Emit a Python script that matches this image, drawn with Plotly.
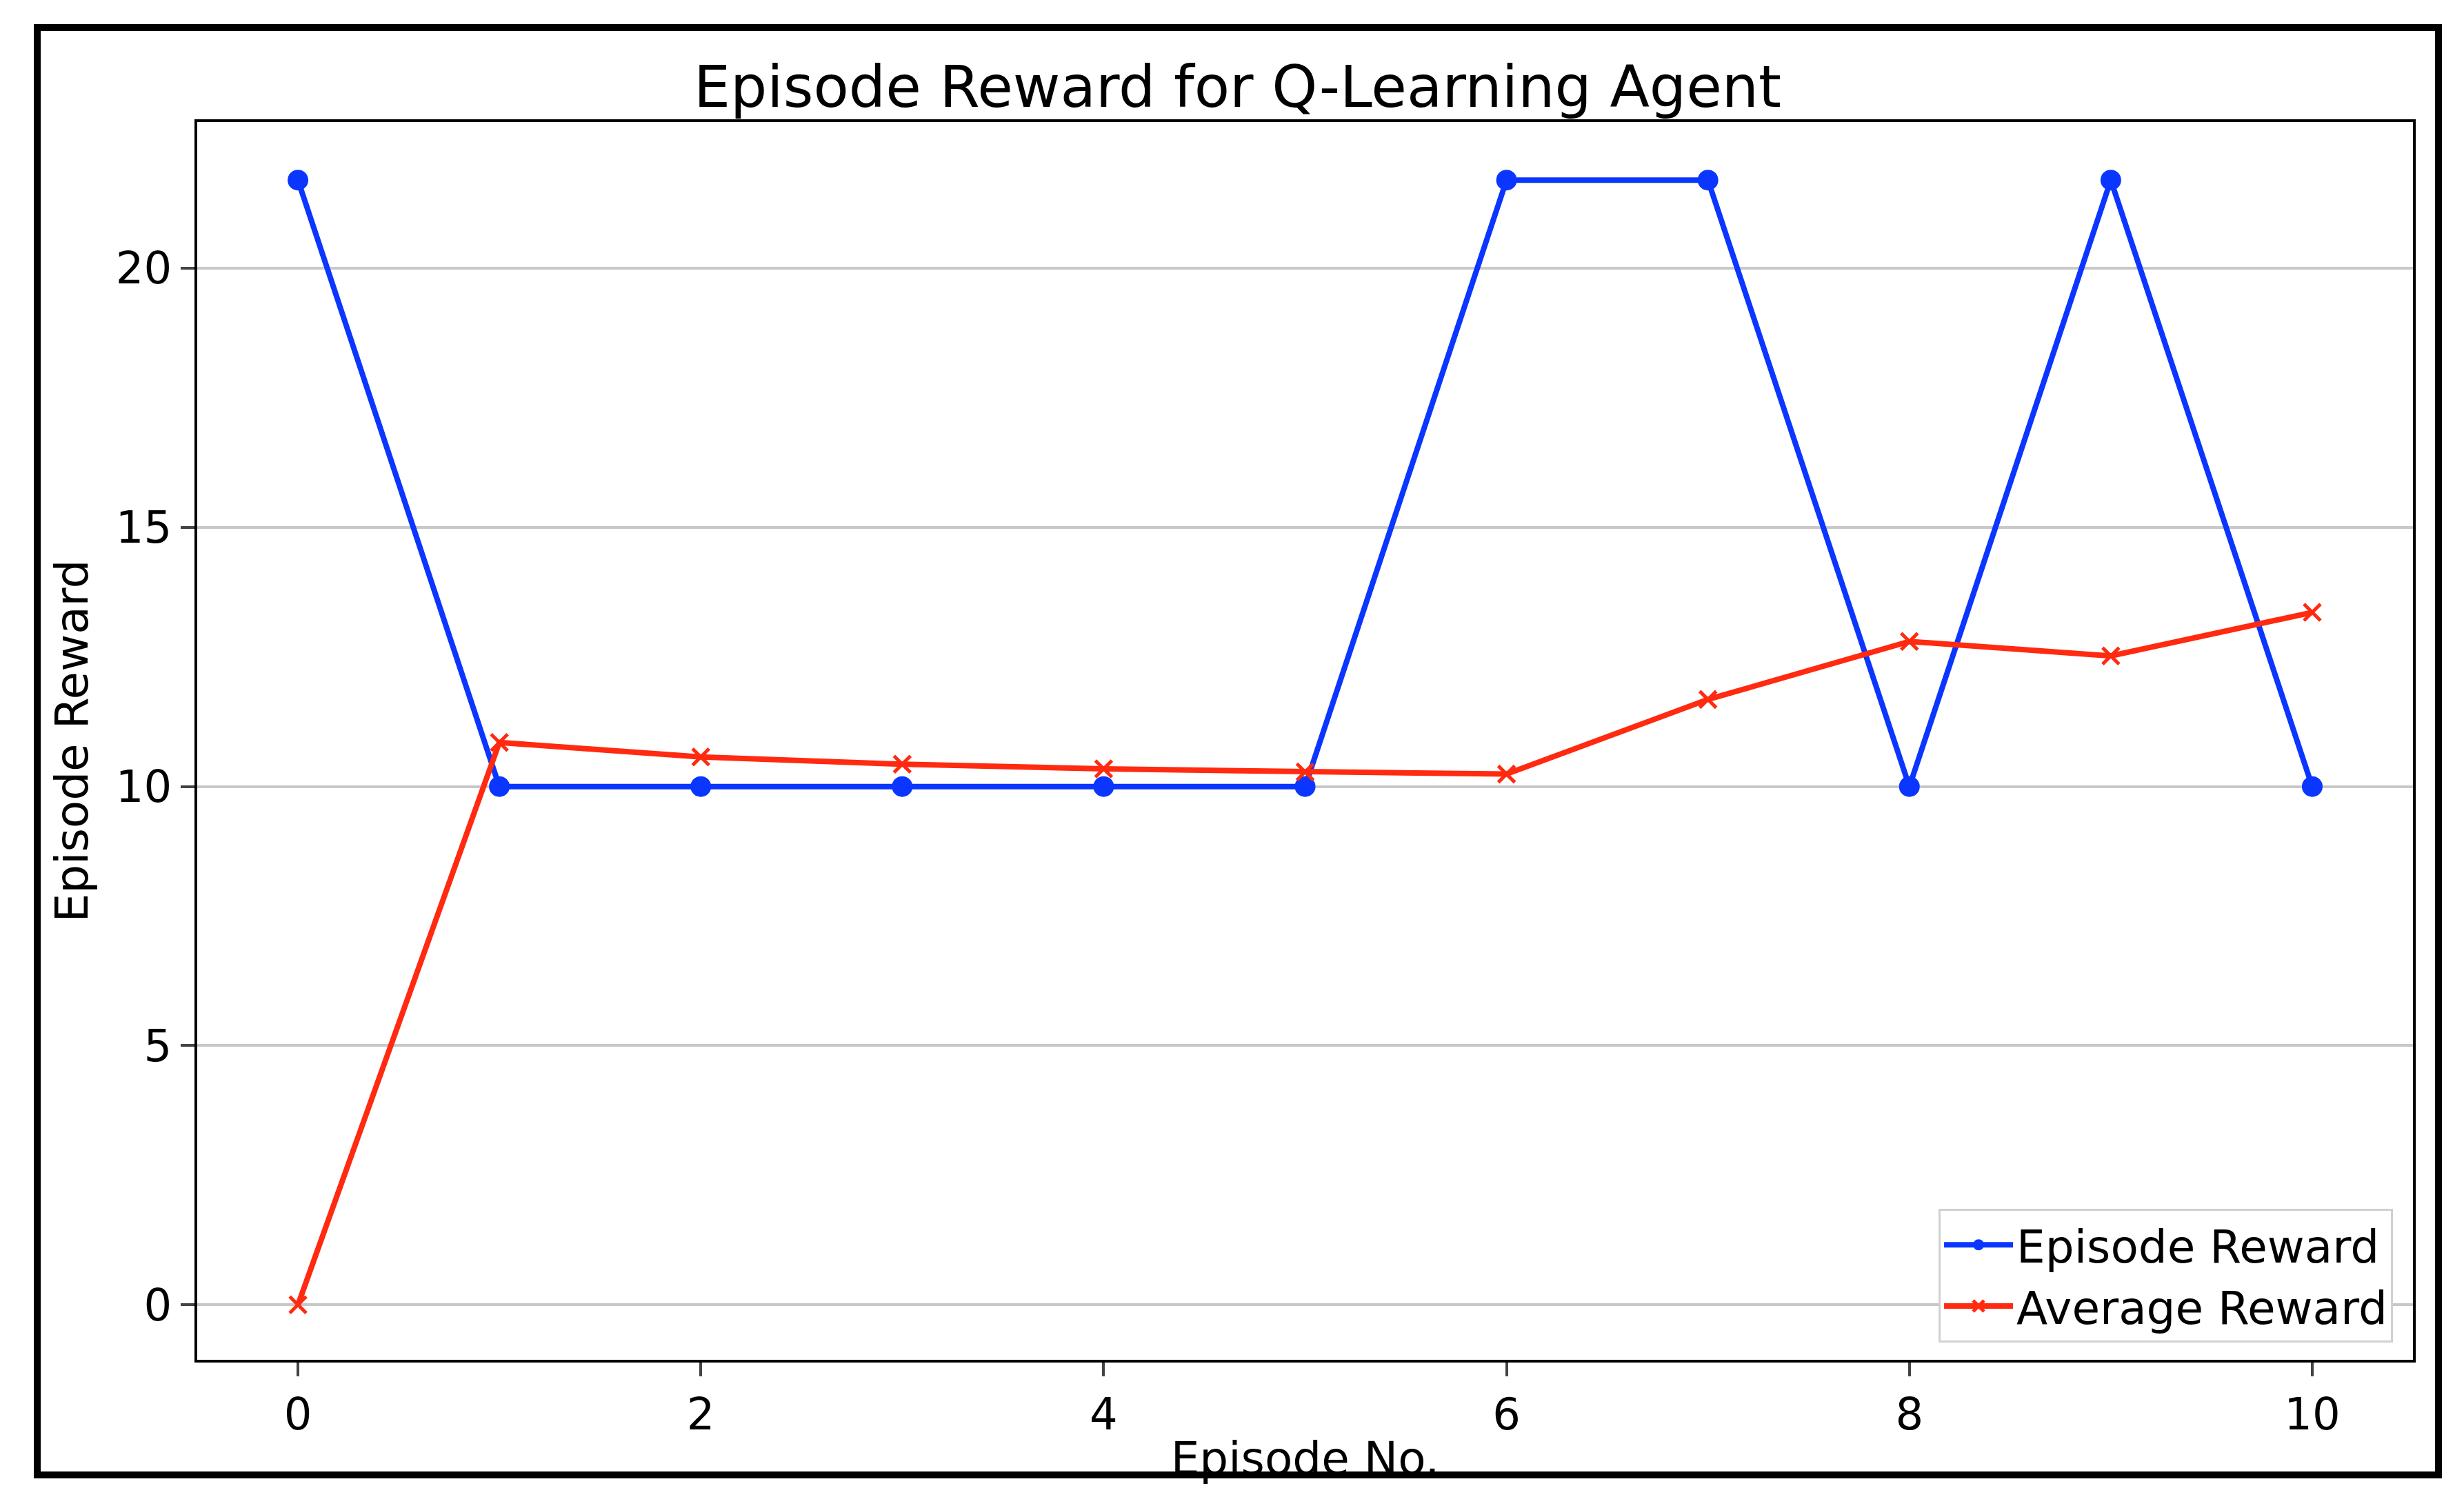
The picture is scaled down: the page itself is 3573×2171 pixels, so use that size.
import plotly.graph_objects as go

episodes = list(range(11))
episode_reward = [21.7, 10, 10, 10, 10, 10, 21.7, 21.7, 10, 21.7, 10]
average_reward = [0, 10.85, 10.57, 10.43, 10.34, 10.28, 10.24, 11.68, 12.8, 12.52, 13.36]

fig = go.Figure()
fig.add_trace(go.Scatter(x=episodes, y=episode_reward, mode="lines+markers", name="Episode Reward",
                         line=dict(color="#0a36ff", width=8), marker=dict(symbol="circle", size=30, color="#0a36ff")))
fig.add_trace(go.Scatter(x=episodes, y=average_reward, mode="lines+markers", name="Average Reward",
                         line=dict(color="#ff2a10", width=8), marker=dict(symbol="x-thin", size=24, line=dict(width=5, color="#ff2a10"), color="#ff2a10")))

font = "DejaVu Sans"
fig.update_layout(
    width=3573, height=2171, paper_bgcolor="white", plot_bgcolor="white",
    margin=dict(l=278, r=82, t=169, b=207),
    font=dict(family=font, size=64, color="black"),
    title=dict(text="Episode Reward for Q-Learning Agent", x=0.5, xanchor="center", y=1 - 118/2171, yanchor="middle", font=dict(size=84)),
    xaxis=dict(range=[-0.5, 10.5], tickvals=[0, 2, 4, 6, 8, 10], showgrid=False, zeroline=False,
               ticks="outside", ticklen=20, tickwidth=4, showline=True, linecolor="black", linewidth=4, mirror=True,
               title=dict(text="Episode No.", font=dict(size=66), standoff=6)),
    yaxis=dict(range=[-1.06, 22.82], tickvals=[0, 5, 10, 15, 20], showgrid=True, gridcolor="#c8c8c8", gridwidth=4,
               zeroline=False, ticks="outside", ticklen=20, tickwidth=4, showline=True, linecolor="black", linewidth=4, mirror=True,
               title=dict(text="Episode Reward", font=dict(size=66), standoff=20)),
    legend=dict(x=0.991, y=0.014, xanchor="right", yanchor="bottom", bgcolor="white", bordercolor="#d0d0d0", borderwidth=3,
                font=dict(size=66), itemwidth=100),
    shapes=[dict(type="rect", xref="paper", yref="paper", x0=-0.0722, x1=1.0115, y0=-0.093, y1=1.0763,
                 line=dict(color="black", width=10))],
)
fig.write_html("out.html")
